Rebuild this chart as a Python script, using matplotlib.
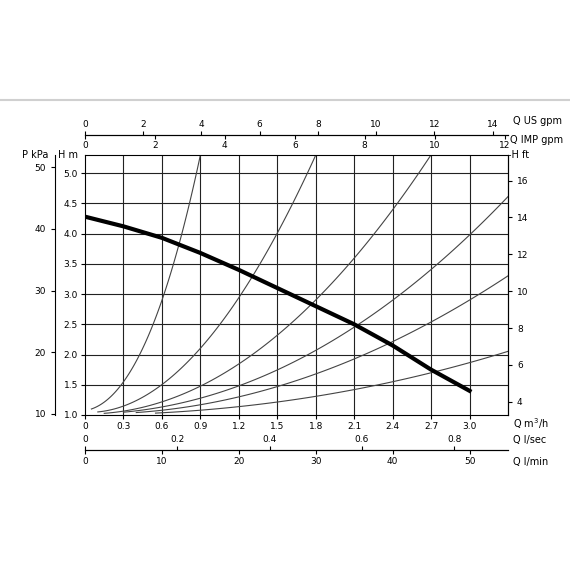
import matplotlib
matplotlib.use("Agg")
import matplotlib.pyplot as plt
import numpy as np

# pump curve (Q m3/h, H m)
pump_q = [0.0, 0.3, 0.6, 0.9, 1.2, 1.5, 1.8, 2.1, 2.4, 2.7, 3.0]
pump_h = [4.28, 4.12, 3.93, 3.68, 3.40, 3.10, 2.80, 2.50, 2.15, 1.75, 1.40]

# system curves
sys1_q = [0.05, 0.2, 0.3, 0.45, 0.6, 0.75, 0.9]
sys1_h = [1.10, 1.30, 1.55, 2.10, 2.90, 3.95, 5.30]
sys2_q = [0.1, 0.3, 0.6, 0.9, 1.2, 1.5, 1.8]
sys2_h = [1.05, 1.15, 1.50, 2.10, 2.95, 4.00, 5.30]
sys3_q = [0.15, 0.6, 0.9, 1.2, 1.5, 1.8, 2.1, 2.4, 2.7]
sys3_h = [1.03, 1.20, 1.50, 1.85, 2.30, 2.90, 3.60, 4.40, 5.30]
sys4_q = [0.3, 0.6, 0.9, 1.2, 1.5, 1.8, 2.1, 2.4, 2.7, 3.0, 3.3]
sys4_h = [1.05, 1.12, 1.28, 1.50, 1.75, 2.05, 2.45, 2.90, 3.40, 4.00, 4.60]
sys5_q = [0.4, 0.9, 1.2, 1.5, 1.8, 2.1, 2.4, 2.7, 3.0, 3.3]
sys5_h = [1.04, 1.17, 1.30, 1.47, 1.68, 1.93, 2.20, 2.55, 2.90, 3.30]
sys6_q = [0.55, 0.9, 1.2, 1.5, 1.8, 2.1, 2.4, 2.7, 3.0, 3.3]
sys6_h = [1.03, 1.08, 1.14, 1.22, 1.30, 1.42, 1.55, 1.70, 1.87, 2.05]
systems = [(sys1_q, sys1_h), (sys2_q, sys2_h), (sys3_q, sys3_h),
           (sys4_q, sys4_h), (sys5_q, sys5_h), (sys6_q, sys6_h)]

q_ticks = [0, 0.3, 0.6, 0.9, 1.2, 1.5, 1.8, 2.1, 2.4, 2.7, 3.0]
h_ticks = [1.0, 1.5, 2.0, 2.5, 3.0, 3.5, 4.0, 4.5, 5.0]
us_ticks = [0, 2, 4, 6, 8, 10, 12, 14]
imp_ticks = [0, 2, 4, 6, 8, 10, 12]
ls_ticks = [0.2, 0.4, 0.6, 0.8]
lm_ticks = [0, 10, 20, 30, 40, 50]
kpa_ticks = [10, 20, 30, 40, 50]
ft_ticks = [4, 6, 8, 10, 12, 14, 16]

FS = 6.5
fig = plt.figure(figsize=(5.7, 5.7), dpi=100)
fig.add_artist(plt.Line2D([0, 1], [1 - 100/570]*2, color="#d0d0d0", lw=1.5))
ax = fig.add_axes([85/570, 1 - 415/570, 423/570, 260/570])
ax.set_xlim(0, 3.3)
ax.set_ylim(1.0, 5.3)
for q in q_ticks[1:]:
    ax.axvline(q, color="#222", lw=0.8)
for h in h_ticks[1:]:
    ax.axhline(h, color="#222", lw=0.8)
for qq, hh in systems:
    xs = np.linspace(qq[0], qq[-1], 80)
    ax.plot(xs, np.polyval(np.polyfit(qq, hh, 3), xs), color="#444", lw=0.8)
ax.plot(pump_q, pump_h, color="black", lw=3)
ax.set_xticks(q_ticks)
ax.set_xticklabels([f"{v:.1f}" if v else "0" for v in q_ticks])
ax.set_yticks(h_ticks)
ax.set_yticklabels([f"{v:.1f}" for v in h_ticks])
ax.tick_params(labelsize=FS, length=3, pad=2)

r = ax.secondary_yaxis("right", functions=(lambda h: h * 3.2808, lambda f: f / 3.2808))
r.set_yticks(ft_ticks)
r.tick_params(labelsize=FS, length=3)
l = ax.secondary_yaxis(-30/423, functions=(lambda h: h * 9.81, lambda p: p / 9.81))
l.set_yticks(kpa_ticks)
l.tick_params(labelsize=FS, length=3)

top_loc = 1 + 20/260
us = ax.secondary_xaxis(top_loc, functions=(lambda q: q * 4.403, lambda g: g / 4.403))
us.set_xticks(us_ticks)
us.tick_params(labelsize=FS, length=3, pad=1)
imp = ax.secondary_xaxis(top_loc, functions=(lambda q: q * 3.666, lambda g: g / 3.666))
imp.set_xticks(imp_ticks)
imp.tick_params(labelsize=FS, length=3, top=False, labeltop=False, bottom=True, labelbottom=True, pad=1)

bot_loc = -35/260
ls = ax.secondary_xaxis(bot_loc, functions=(lambda q: q / 3.6, lambda s: s * 3.6))
ls.set_xticks([0] + ls_ticks)
ls.set_xticklabels(["0"] + [f"{v:.1f}" for v in ls_ticks])
ls.tick_params(labelsize=FS, length=3, pad=1, direction="out")
ls.xaxis.set_ticks_position("top")
lm = ax.secondary_xaxis(bot_loc, functions=(lambda q: q * 1000 / 60, lambda m: m * 60 / 1000))
lm.set_xticks(lm_ticks)
lm.tick_params(labelsize=FS, length=3, pad=2)

T = ax.transAxes
kw = dict(fontsize=FS + 0.5, transform=T, va="center")
ax.text(1.012, -0.033, "Q m$^3$/h", **kw)
ax.text(1.012, -0.098, "Q l/sec", **kw)
ax.text(1.012, -0.181, "Q l/min", **kw)
ax.text(1.012, 1.131, "Q US gpm", **kw)
ax.text(1.005, 1.058, "Q IMP gpm", **kw)
ax.text(1.0, 1.0, "-H ft", **kw)
ax.text(-0.017, 1.0, "H m", ha="right", **kw)
ax.text(-0.087, 1.0, "P kPa", ha="right", **kw)
fig.savefig("out.png", dpi=100)
